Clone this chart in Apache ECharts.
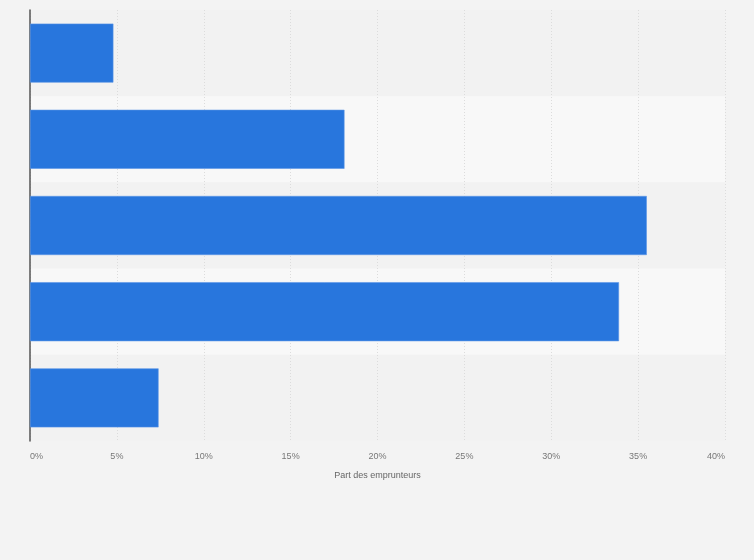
<!DOCTYPE html>
<html><head><meta charset="utf-8">
<script src="https://cdn.jsdelivr.net/npm/echarts@6/dist/echarts.min.js"></script>
<style>html,body{margin:0;padding:0;background:#f3f3f3;}#c{width:754px;height:560px;}</style>
</head><body><div id="c"></div>
<script>
const categories = ['A', 'B', 'C', 'D', 'E'];
const values = [4.8, 18.1, 35.5, 33.9, 7.4];
const xTicks = [0, 5, 10, 15, 20, 25, 30, 35, 40];

const chart = echarts.init(document.getElementById('c'), null, {renderer: 'canvas'});
chart.setOption({
  backgroundColor: '#f3f3f3',
  animation: false,
  grid: {left: 30, right: 29, top: 10, bottom: 119, containLabel: false},
  xAxis: {
    type: 'value', min: xTicks[0], max: xTicks[xTicks.length - 1], interval: 5,
    name: 'Part des emprunteurs', nameLocation: 'middle', nameGap: 30,
    nameTextStyle: {color: '#666', fontSize: 9, fontFamily: 'Liberation Sans'},
    axisLine: {show: false}, axisTick: {show: false},
    axisLabel: {formatter: v => v + '%', color: '#777', fontSize: 9, fontFamily: 'Liberation Sans', margin: 11,
      alignMinLabel: 'left', alignMaxLabel: 'right'},
    splitLine: {show: true, lineStyle: {color: '#dcdcdc', type: [1, 2], width: 1}}
  },
  yAxis: {
    type: 'category', data: categories, inverse: true,
    axisLine: {show: true, lineStyle: {color: '#555', width: 1.5}},
    axisTick: {show: false}, axisLabel: {show: false},
    splitArea: {show: true, areaStyle: {color: ['#f2f2f2', '#f8f8f8']}}
  },
  series: [{
    type: 'bar', data: values, barCategoryGap: '31.5%',
    itemStyle: {color: '#2876dd', borderColor: '#5a96e6', borderWidth: 0.6}
  }]
});
</script></body></html>
